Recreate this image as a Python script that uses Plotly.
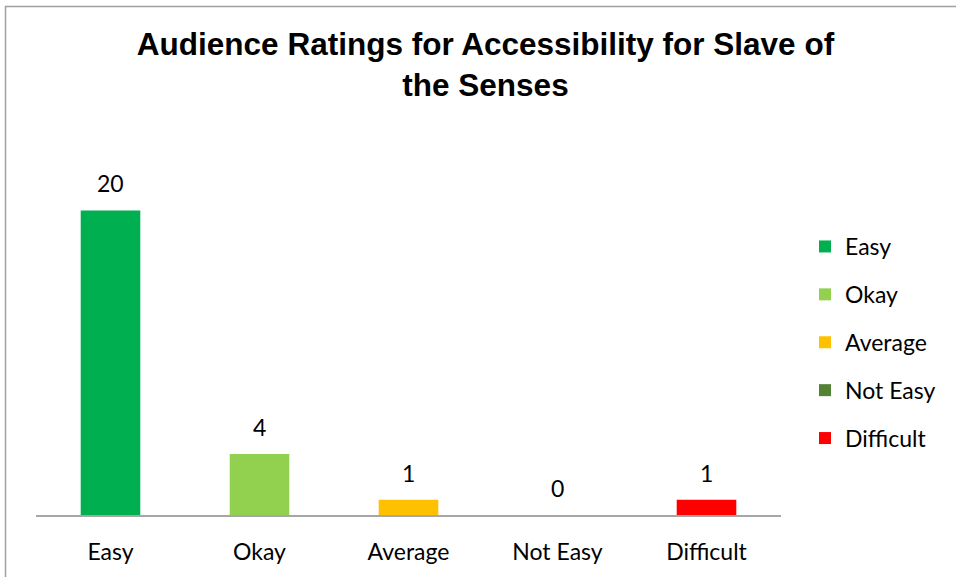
import plotly.graph_objects as go

# Ratings data
categories = ["Easy", "Okay", "Average", "Not Easy", "Difficult"]
counts = [20, 4, 1, 0, 1]
colors = ["#00B050", "#92D050", "#FFC000", "#548235", "#FF0000"]

W, H = 956, 577
L, R, T, B = 36, 175, 180, 62
plot_w = W - L - R
plot_h = H - T - B
y_max = 22

label_font = dict(family="Lato, Carlito, Calibri, sans-serif", size=23, color="#000000")

fig = go.Figure()
for i, (cat, val, col) in enumerate(zip(categories, counts, colors)):
    fig.add_trace(go.Bar(
        x=[cat], y=[val], name=cat, marker=dict(color=col, line=dict(width=0)),
        width=0.4, legendgroup=cat, hoverinfo="x+y",
    ))
    fig.add_annotation(
        x=cat, y=val, text=str(val), showarrow=False, yanchor="bottom",
        yshift=11, font=label_font,
    )

# Chart border rectangle (pixel positions converted to paper coordinates)
def px_to_paper_x(px):
    return (px - L) / plot_w

def py_to_paper_y(py):
    return (H - B - py) / plot_h

fig.add_shape(
    type="rect", xref="paper", yref="paper",
    x0=px_to_paper_x(5.5), x1=px_to_paper_x(1100),
    y0=py_to_paper_y(700), y1=py_to_paper_y(6.5),
    line=dict(color="#A0A0A0", width=1.5), fillcolor="rgba(0,0,0,0)", layer="below",
)

fig.update_layout(
    width=W, height=H,
    margin=dict(l=L, r=R, t=T, b=B, autoexpand=False),
    paper_bgcolor="white", plot_bgcolor="white",
    barmode="overlay",
    title=dict(
        text="<b>Audience Ratings for Accessibility for Slave of<br>the Senses</b>",
        x=485.5 / W, xref="container", xanchor="center",
        y=1 - 55 / H, yref="container", yanchor="top",
        font=dict(family="Liberation Sans, Arial, sans-serif", size=31.5, color="#000000"),
    ),
    legend=dict(
        xref="container", yref="container",
        x=805 / W, xanchor="left", y=1 - 225 / H, yanchor="top",
        font=label_font, traceorder="grouped", tracegroupgap=15,
        bgcolor="rgba(0,0,0,0)", itemclick=False,
    ),
    showlegend=True,
    xaxis=dict(
        categoryorder="array", categoryarray=categories,
        showline=True, linecolor="#A6A6A6", linewidth=1.5,
        showgrid=False, zeroline=False, ticks="", tickfont=label_font,
        ticklabelstandoff=16,
    ),
    yaxis=dict(
        range=[0, y_max], visible=False, showgrid=False, zeroline=False,
    ),
)

fig.write_html("out.html")
